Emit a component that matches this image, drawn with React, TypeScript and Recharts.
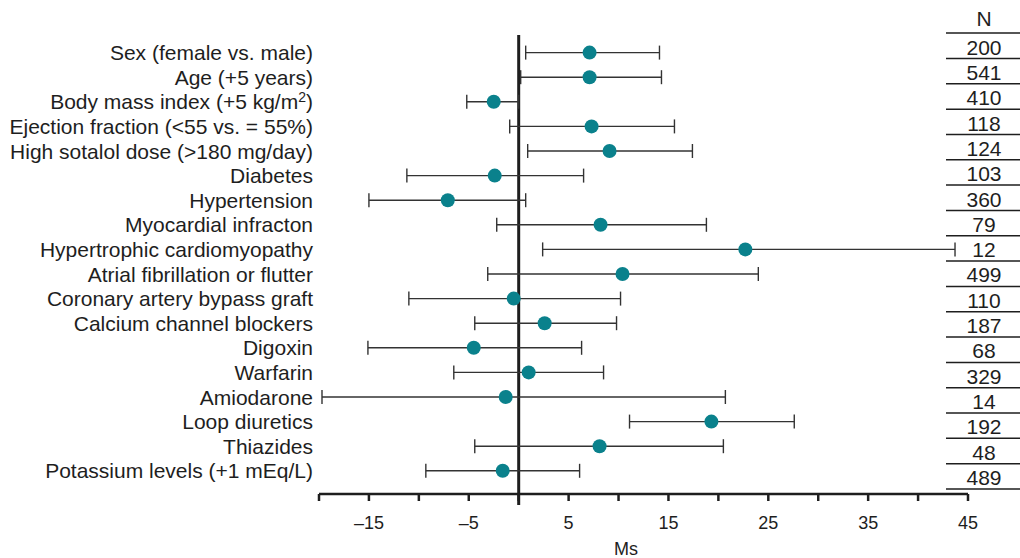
import React from 'react';
import { ScatterChart, Scatter, XAxis, YAxis, ErrorBar, ReferenceLine } from 'recharts';

const LABELS = [
  'Sex (female vs. male)',
  'Age (+5 years)',
  'Body mass index (+5 kg/m^2)',
  'Ejection fraction (<55 vs. = 55%)',
  'High sotalol dose (>180 mg/day)',
  'Diabetes',
  'Hypertension',
  'Myocardial infracton',
  'Hypertrophic cardiomyopathy',
  'Atrial fibrillation or flutter',
  'Coronary artery bypass graft',
  'Calcium channel blockers',
  'Digoxin',
  'Warfarin',
  'Amiodarone',
  'Loop diuretics',
  'Thiazides',
  'Potassium levels (+1 mEq/L)',
];
const EST = [7.1, 7.1, -2.5, 7.3, 9.1, -2.4, -7.1, 8.2, 22.7, 10.4, -0.5, 2.6, -4.5, 1.0, -1.3, 19.3, 8.1, -1.6];
const LOW = [0.7, 0.2, -5.2, -0.9, 0.9, -11.2, -15.0, -2.2, 2.4, -3.1, -11.0, -4.4, -15.1, -6.5, -19.7, 11.1, -4.4, -9.3];
const HIGH = [14.1, 14.3, 0, 15.6, 17.4, 6.5, 0.7, 18.8, 43.7, 24.0, 10.2, 9.8, 6.3, 8.5, 20.7, 27.6, 20.5, 6.1];
const N = [200, 541, 410, 118, 124, 103, 360, 79, 12, 499, 110, 187, 68, 329, 14, 192, 48, 489];
const X_TICKS = [-20, -15, -10, -5, 0, 5, 10, 15, 20, 25, 30, 35, 40, 45];
const X_LABELED = [-15, -5, 5, 15, 25, 35, 45];

const ROWS = LABELS.map((_l, i) => i);
const data = LABELS.map((label, i) => ({
  label,
  row: i,
  est: EST[i],
  err: [EST[i] - LOW[i], HIGH[i] - EST[i]],
}));

const FONT = '"Liberation Sans", Arial, Helvetica, sans-serif';
const INK = '#1e1e1e';
const TEAL = '#0a818c';

const RowTick = ({ x, y, payload }: any) => {
  const text: string = LABELS[payload.value] ?? '';
  const parts = text.split('^');
  return (
    <text x={x} y={y} dy="0.36em" textAnchor="end" fontSize={21} fill={INK} fontFamily={FONT}>
      {parts.length > 1 ? (
        <>
          {parts[0]}
          <tspan dy={-7} fontSize={14}>{parts[1][0]}</tspan>
          <tspan dy={7}>{parts[1].slice(1)}</tspan>
        </>
      ) : (
        text
      )}
    </text>
  );
};

const NTick = ({ x, y, payload }: any) => {
  const i = payload.value;
  return (
    <g>
      {i === 0 && <line x1={x - 22} x2={x + 52} y1={y - 14} y2={y - 14} stroke={INK} strokeWidth={1.5} />}
      <text x={x + 16} y={y} dy="0.36em" textAnchor="middle" fontSize={21} fill={INK} fontFamily={FONT}>
        {N[i]}
      </text>
      <line x1={x - 22} x2={x + 52} y1={y + 11.5} y2={y + 11.5} stroke={INK} strokeWidth={1.5} />
    </g>
  );
};

const Dot = (props: any) => <circle cx={props.cx} cy={props.cy} r={7} fill={TEAL} />;

const fmtX = (v: number) => (X_LABELED.includes(v) ? (v < 0 ? `\u2013${-v}` : `${v}`) : '');

export default function App() {
  return (
    <div style={{ width: 1020, height: 558, fontFamily: FONT }}>
      <style>{'body{margin:0}'}</style>
      <ScatterChart width={1020} height={558} margin={{ top: 35, right: 0, bottom: 0, left: 0 }}>
        <XAxis
          type="number"
          dataKey="est"
          domain={[-20, 45]}
          ticks={X_TICKS}
          interval={0}
          allowDataOverflow
          height={64}
          tickFormatter={fmtX}
          tickSize={7}
          tickMargin={15}
          tick={{ fontSize: 18, fill: INK, fontFamily: FONT }}
          axisLine={{ stroke: INK, strokeWidth: 2.5 }}
          tickLine={{ stroke: INK, strokeWidth: 2.5 }}
          label={{
            content: ({ viewBox }: any) => (
              <text x={viewBox.x + viewBox.width * 0.473} y={viewBox.y + 61} textAnchor="middle" fontSize={18} fill={INK} fontFamily={FONT}>
                Ms
              </text>
            ),
          }}
        />
        <YAxis
          yAxisId="rows"
          type="number"
          dataKey="row"
          reversed
          domain={[-0.7154, 17.943]}
          ticks={ROWS}
          interval={0}
          allowDataOverflow
          width={319}
          axisLine={false}
          tickLine={false}
          tickSize={0}
          tickMargin={6}
          tick={<RowTick />}
        />
        <YAxis
          yAxisId="n"
          orientation="right"
          type="number"
          reversed
          domain={[-0.4739, 17.651]}
          ticks={ROWS}
          interval={0}
          allowDataOverflow
          width={52}
          axisLine={false}
          tickLine={false}
          tickSize={0}
          tickMargin={0}
          tick={<NTick />}
          label={{
            content: ({ viewBox }: any) => (
              <text x={viewBox.x + 16} y={viewBox.y - 17} dy="0.36em" textAnchor="middle" fontSize={21} fill={INK} fontFamily={FONT}>
                N
              </text>
            ),
          }}
        />
        <ReferenceLine
          yAxisId="rows"
          segment={[{ x: 0, y: -0.7154 }, { x: 0, y: 18.39 }]}
          ifOverflow="visible"
          stroke={INK}
          strokeWidth={3}
        />
        <Scatter yAxisId="rows" data={data} dataKey="row" shape={<Dot />} isAnimationActive={false}>
          <ErrorBar dataKey="err" direction="x" width={7} stroke="#333" strokeWidth={1.4} />
        </Scatter>
      </ScatterChart>
    </div>
  );
}
